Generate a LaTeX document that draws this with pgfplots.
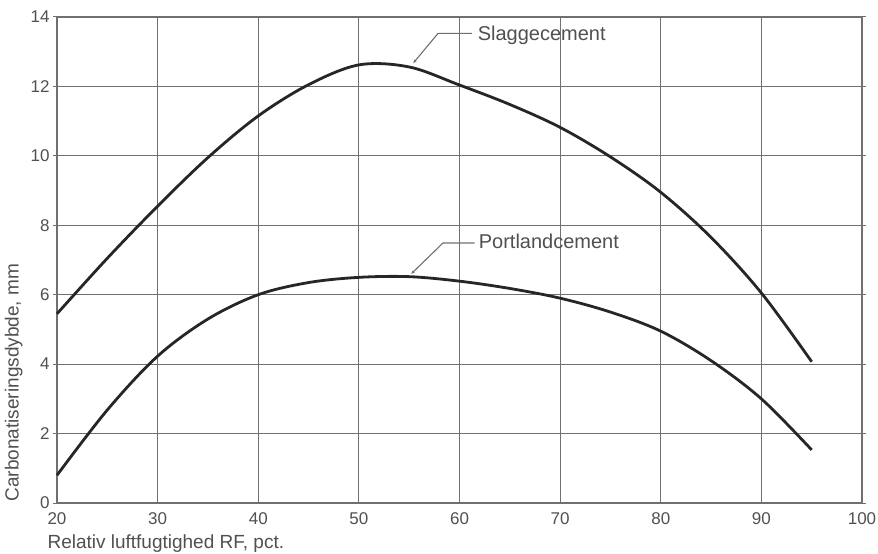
\documentclass[border=0pt]{standalone}
\usepackage{fontspec}
\setmainfont{Liberation Sans}
\usepackage{pgfplots}
\pgfplotsset{compat=1.18}
\usetikzlibrary{arrows.meta}
\definecolor{txt}{HTML}{505050}
\definecolor{grd}{HTML}{707070}
\begin{document}
\begin{tikzpicture}
\begin{axis}[
  scale only axis, width=805pt, height=486pt,
  xmin=20, xmax=100, ymin=0, ymax=14,
  xtick={20,30,...,100}, ytick={0,2,...,14},
  grid=major,
  major grid style={grd, line width=1.2pt},
  axis line style={grd, line width=1.3pt},
  tick style={grd, line width=1pt},
  xtick style={draw=none},
  tick align=outside, major tick length=4pt,
  ticklabel style={font=\fontsize{17}{19}\selectfont, text=txt},
  xticklabel style={yshift=-2pt},
  /pgf/number format/assume math mode=true,
  xlabel={Relativ luftfugtighed RF, pct.},
  ylabel={Carbonatiseringsdybde, mm},
  label style={text=txt},
  xlabel style={font=\fontsize{19}{21}\selectfont, at={(rel axis cs:0,0)}, anchor=north west, yshift=-28pt, xshift=-13pt},
  ylabel style={font=\fontsize{19}{21}\selectfont, at={(rel axis cs:0,0)}, anchor=south west, yshift=31pt, xshift=-2pt},
  clip=false,
]
\addplot[black!85, line width=2.8pt, smooth, tension=0.55] coordinates {
(20,5.45) (25,7.05) (30,8.55) (35,9.95) (40,11.15) (45,12.05) (50,12.62) (55,12.56) (60,12.04) (65,11.48) (70,10.82) (75,9.97) (80,8.95) (85,7.65) (90,6.05) (95,4.07)};
\addplot[black!85, line width=2.8pt, smooth, tension=0.55] coordinates {
(20,0.8) (25,2.68) (30,4.23) (35,5.3) (40,6.0) (45,6.35) (50,6.5) (55,6.52) (60,6.39) (65,6.18) (70,5.9) (75,5.5) (80,4.95) (85,4.1) (90,3.0) (95,1.53)};
\addplot[grd, line width=1.1pt, -{Stealth[length=4pt,width=3pt]}] coordinates {(61.24,13.53) (57.87,13.53) (55.4,12.67)};
\addplot[grd, line width=1.1pt, -{Stealth[length=4pt,width=3pt]}] coordinates {(61.5,7.49) (58.36,7.49) (55.2,6.6)};
\node[anchor=base west, inner sep=0pt, text=txt, font=\fontsize{20}{22}\selectfont] at (axis cs:61.8,13.31) {Slaggecement};
\node[anchor=base west, inner sep=0pt, text=txt, font=\fontsize{20}{22}\selectfont] at (axis cs:61.9,7.34) {Portlandcement};
\end{axis}
\pgfresetboundingbox
\path[use as bounding box] ([xshift=-57pt,yshift=-50pt]current axis.south west) rectangle ([xshift=16pt,yshift=17pt]current axis.north east);
\end{tikzpicture}
\end{document}
